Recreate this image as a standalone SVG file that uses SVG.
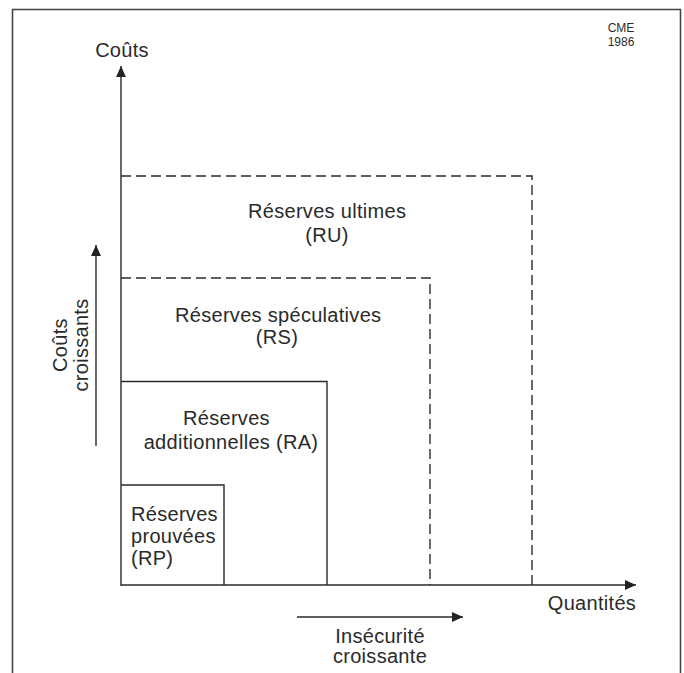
<svg xmlns="http://www.w3.org/2000/svg" width="684" height="673" viewBox="0 0 684 673">
<defs>
<marker id="ah" viewBox="0 0 10 10" refX="10" refY="5" markerWidth="11" markerHeight="11" markerUnits="userSpaceOnUse" orient="auto">
<path d="M0,0.5 L10,5 L0,9.5 Z" fill="#222"/>
</marker>
<style>
.t{font-family:"Liberation Sans",Arial,sans-serif;font-size:20px;letter-spacing:0.3px;fill:#2a2a2a}
.s{font-family:"Liberation Sans",Arial,sans-serif;font-size:12px;fill:#2a2a2a}
.ln{stroke:#2a2a2a;stroke-width:1.4;fill:none}
.da{stroke:#2a2a2a;stroke-width:1.4;fill:none;stroke-dasharray:10 5}
.ar{stroke:#2a2a2a;stroke-width:1.4;fill:none;marker-end:url(#ah)}
</style>
</defs>
<rect width="684" height="673" fill="#fff"/>
<path d="M12.5,673 V9.5 H680.5 V673" stroke="#444" stroke-width="1.6" fill="none"/>
<g id="cme">
<text class="s" x="621" y="32" text-anchor="middle">CME</text>
<text class="s" x="621" y="46" text-anchor="middle">1986</text>
</g>
<g id="connectors">
<line class="ar" x1="121" y1="586" x2="121" y2="66"/>
<line class="ar" x1="121" y1="585" x2="636" y2="585"/>
<line class="ar" x1="96" y1="446" x2="96" y2="245"/>
<line class="ar" x1="297" y1="617" x2="463" y2="617"/>
</g>
<g id="axis-labels">
<text class="t" x="122" y="57" text-anchor="middle">Coûts</text>
<text class="t" x="592" y="610" text-anchor="middle">Quantités</text>
<text class="t" x="380" y="643" text-anchor="middle">Insécurité</text>
<text class="t" x="380" y="663" text-anchor="middle">croissante</text>
<text class="t" transform="translate(67,345) rotate(-90)" text-anchor="middle">Coûts</text>
<text class="t" transform="translate(88,345) rotate(-90)" text-anchor="middle">croissants</text>
</g>
<g id="RU">
<path class="da" d="M121,176 H532 V585"/>
<text class="t" x="248" y="218">Réserves ultimes</text>
<text class="t" x="327" y="242" text-anchor="middle">(RU)</text>
</g>
<g id="RS">
<path class="da" d="M121,278 H430 V585"/>
<text class="t" x="175" y="322">Réserves spéculatives</text>
<text class="t" x="277" y="344" text-anchor="middle">(RS)</text>
</g>
<g id="RA">
<path class="ln" d="M121,381.5 H327 V585"/>
<text class="t" x="183" y="425">Réserves</text>
<text class="t" x="231" y="449" text-anchor="middle">additionnelles (RA)</text>
</g>
<g id="RP">
<path class="ln" d="M121,485 H224 V585"/>
<text class="t" x="131" y="521">Réserves</text>
<text class="t" x="131" y="543">prouvées</text>
<text class="t" x="131" y="565">(RP)</text>
</g>
</svg>
